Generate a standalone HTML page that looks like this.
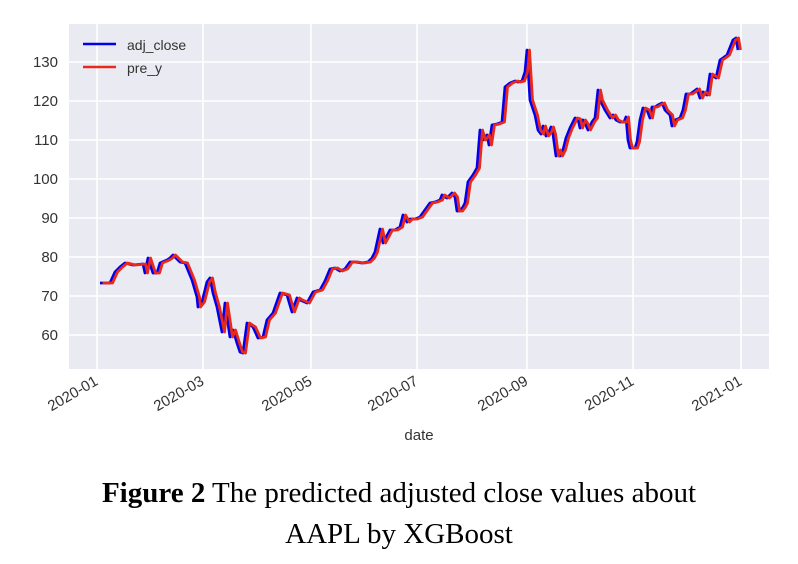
<!DOCTYPE html>
<html><head><meta charset="utf-8"><style>
body{margin:0;background:#fff;width:798px;height:564px;overflow:hidden}
.cap{position:absolute;left:0;width:798px;text-align:center;font-family:"Liberation Serif",serif;font-size:29px;color:#000}
</style></head><body>
<svg width="798" height="564" style="position:absolute;left:0;top:0" font-family="Liberation Sans, sans-serif">
<defs><polyline id="p" fill="none" stroke-width="2.8" stroke-linejoin="round" points="100,283 110,283 115,272 120,267 125,263 133,265 143,264 145,273 148,258 153,273 157,273 160,263 167,260 170,258 173,255 180,262 185,263 192,280 197,297 198,307 202,302 207,282 210,278 213,293 217,307 222,332 225,303 230,337 233,330 237,343 240,352 243,353 247,323 253,327 258,338 263,337 267,320 273,313 280,293 287,295 292,312 297,298 300,300 307,303 313,292 320,290 325,281 330,269 335,268 340,271 345,269 350,262 355,262 362,263 368,262 372,258 375,252 380,229 383,243 390,230 395,230 400,227 403,215 407,222 410,219 415,219 420,217 425,210 430,203 435,202 440,200 442,195 447,198 450,195 452,193 455,197 457,211 460,211 463,207 465,203 468,182 473,175 477,168 480,130 483,140 487,135 489,145 492,125 497,124 502,122 505,87 510,83 515,81 518,82 522,81 525,72 527,50 530,100 535,115 538,130 541,134 543,126 546,136 549,132 551,127 553,134 556,156 558,150 560,156 563,150 566,138 570,128 575,118 578,119 580,128 583,120 585,123 588,130 592,122 595,118 598,90 600,100 605,110 610,118 613,115 616,120 620,122 624,122 626,117 628,140 630,148 635,148 637,142 640,120 643,108 647,110 650,118 652,107 655,107 658,105 662,103 665,110 670,115 672,126 675,120 680,118 683,110 686,94 690,94 693,92 697,89 700,98 703,92 707,95 710,74 713,76 716,78 720,60 723,58 727,55 733,40 736,38 738,50"/></defs>
<rect x="69" y="24" width="700" height="345" fill="#eaeaf2"/>
<g stroke="#fff" stroke-width="1.6">
<line x1="69" x2="769" y1="62" y2="62"/><line x1="69" x2="769" y1="101" y2="101"/><line x1="69" x2="769" y1="140" y2="140"/><line x1="69" x2="769" y1="179" y2="179"/><line x1="69" x2="769" y1="218" y2="218"/><line x1="69" x2="769" y1="257" y2="257"/><line x1="69" x2="769" y1="296" y2="296"/><line x1="69" x2="769" y1="335" y2="335"/>
<line y1="24" y2="369" x1="97" x2="97"/><line y1="24" y2="369" x1="203" x2="203"/><line y1="24" y2="369" x1="311" x2="311"/><line y1="24" y2="369" x1="417" x2="417"/><line y1="24" y2="369" x1="527" x2="527"/><line y1="24" y2="369" x1="633" x2="633"/><line y1="24" y2="369" x1="741" x2="741"/>
</g>
<g font-size="15" fill="#333" text-anchor="end">
<text x="58" y="67">130</text><text x="58" y="106">120</text><text x="58" y="145">110</text><text x="58" y="184">100</text><text x="58" y="223">90</text><text x="58" y="262">80</text><text x="58" y="301">70</text><text x="58" y="340">60</text>
</g>
<g font-size="15" fill="#333" text-anchor="end">
<text transform="translate(99,384) rotate(-30)">2020-01</text>
<text transform="translate(205,384) rotate(-30)">2020-03</text>
<text transform="translate(313,384) rotate(-30)">2020-05</text>
<text transform="translate(419,384) rotate(-30)">2020-07</text>
<text transform="translate(529,384) rotate(-30)">2020-09</text>
<text transform="translate(635,384) rotate(-30)">2020-11</text>
<text transform="translate(743,384) rotate(-30)">2021-01</text>
</g>
<text x="419" y="440" font-size="15" fill="#333" text-anchor="middle">date</text>
<use href="#p" stroke="#0000ee"/>
<use href="#p" transform="translate(2.5,0)" stroke="#e8291c"/>
<g stroke-width="2.6"><line x1="83" x2="116" y1="44" y2="44" stroke="#0000ee"/><line x1="83" x2="116" y1="67" y2="67" stroke="#e8291c"/></g>
<text x="127" y="50" font-size="14" fill="#333">adj_close</text>
<text x="127" y="73" font-size="14" fill="#333">pre_y</text>
</svg>
<div class="cap" style="top:477px"><b>Figure 2</b> The predicted adjusted close values about</div>
<div class="cap" style="top:518px">AAPL by XGBoost</div>
</body></html>
